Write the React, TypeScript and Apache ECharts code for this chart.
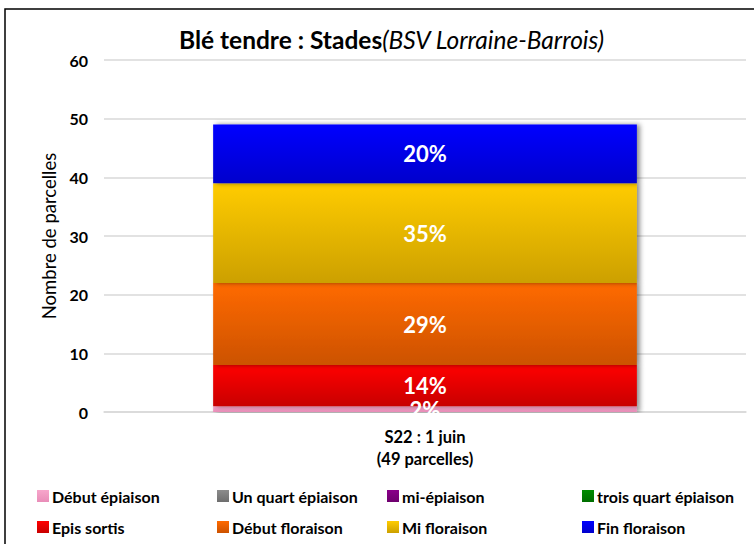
import React, { useEffect, useRef } from "react";
import * as echarts from "echarts";

const categories = ["S22 : 1 juin\n(49 parcelles)"];
const stageNames = [
  "Début épiaison",
  "Un quart épiaison",
  "mi-épiaison",
  "trois quart épiaison",
  "Epis sortis",
  "Début floraison",
  "Mi floraison",
  "Fin floraison",
];
const stageValues = [1, 0, 0, 0, 7, 14, 17, 10];
const total = 49;
const colorsTop = ["#F7A6CB", "#8C8C8C", "#8A008A", "#008C00", "#FF0000", "#FF6A00", "#FFCC00", "#0000FF"];
const colorsBottom = ["#E98DB8", "#6E6E6E", "#6E006E", "#006E00", "#C80000", "#CC5200", "#CCA000", "#0000CC"];
const yTicks = { min: 0, max: 60, interval: 10 };

const legendPos = [
  [37, 488], [217, 488], [387, 488], [582, 488],
  [37, 519], [217, 519], [387, 519], [582, 519],
];

export default function App() {
  const ref = useRef<HTMLDivElement>(null);
  useEffect(() => {
    document.body.style.margin = "0";
    const chart = echarts.init(ref.current!, null, { renderer: "svg" });
    const font = "Lato, 'Noto Sans', sans-serif";
    const grad = (i: number) =>
      new echarts.graphic.LinearGradient(0, 0, 0, 1, [
        { offset: 0, color: colorsTop[i] },
        { offset: 1, color: colorsBottom[i] },
      ]);
    chart.setOption({
      animation: false,
      textStyle: { fontFamily: font },
      title: {
        text: "{tb|Blé tendre : Stades}{ti|(BSV Lorraine-Barrois)}",
        left: 174,
        top: 22,
        textStyle: {
          fontWeight: "normal",
          rich: {
            tb: { fontFamily: font, fontWeight: "bold", fontStyle: "normal", fontSize: 24.5, color: "#000" },
            ti: { fontFamily: font, fontWeight: "normal", fontStyle: "italic", fontSize: 24.5, color: "#000" },
          },
        },
      },
      graphic: [
        {
          type: "rect",
          shape: { x: 5, y: 9, width: 800, height: 600 },
          style: { fill: "none", stroke: "#000", lineWidth: 1.5 },
          z: 100,
        },
        {
          type: "rect",
          shape: { x: 200, y: 413, width: 460, height: 10 },
          style: { fill: "#fff" },
          z: 99,
        },
      ],
      legend: stageNames.map((n, i) => ({
        data: [n],
        left: legendPos[i][0],
        top: legendPos[i][1],
        icon: "rect",
        itemWidth: 12,
        itemHeight: 12,
        itemGap: 2,
        padding: 0,
        textStyle: {
          fontFamily: font,
          fontWeight: "bold",
          fontSize: 16,
          lineHeight: 16,
          color: "#000",
          padding: [0, 0, 0, -2],
        },
      })),
      grid: { left: 104, right: 8, top: 60, bottom: 132, containLabel: false },
      xAxis: {
        type: "category",
        data: categories,
        axisLine: { lineStyle: { color: "#D9D9D9", width: 1.5 } },
        axisTick: { show: false },
        axisLabel: {
          fontFamily: font,
          fontWeight: "bold",
          fontSize: 16.5,
          color: "#000",
          lineHeight: 22,
          margin: 14,
        },
      },
      yAxis: {
        type: "value",
        min: yTicks.min,
        max: yTicks.max,
        interval: yTicks.interval,
        name: "Nombre de parcelles",
        nameLocation: "middle",
        nameGap: 46,
        nameTextStyle: { fontFamily: font, fontSize: 18.5, color: "#000" },
        axisLine: { show: false },
        axisTick: { show: false },
        splitLine: { lineStyle: { color: "#D9D9D9", width: 1.5 } },
        axisLabel: { fontFamily: font, fontWeight: "bold", fontSize: 16, color: "#000", margin: 16 },
      },
      series: stageNames.map((n, i) => ({
        name: n,
        type: "bar",
        stack: "total",
        barWidth: "66%",
        data: [stageValues[i]],
        itemStyle: {
          color: grad(i),
          shadowColor: "rgba(0,0,0,0.45)",
          shadowBlur: 5,
          shadowOffsetX: 3,
          shadowOffsetY: 0,
        },
        label: {
          show: true,
          position: "inside",
          fontFamily: font,
          fontWeight: "bold",
          fontSize: 22,
          color: "#fff",
          formatter: (p: any) => (p.value > 0 ? Math.round((p.value / total) * 100) + "%" : ""),
        },
      })),
    });
    return () => chart.dispose();
  }, []);
  return <div ref={ref} style={{ width: 754, height: 544 }} />;
}
